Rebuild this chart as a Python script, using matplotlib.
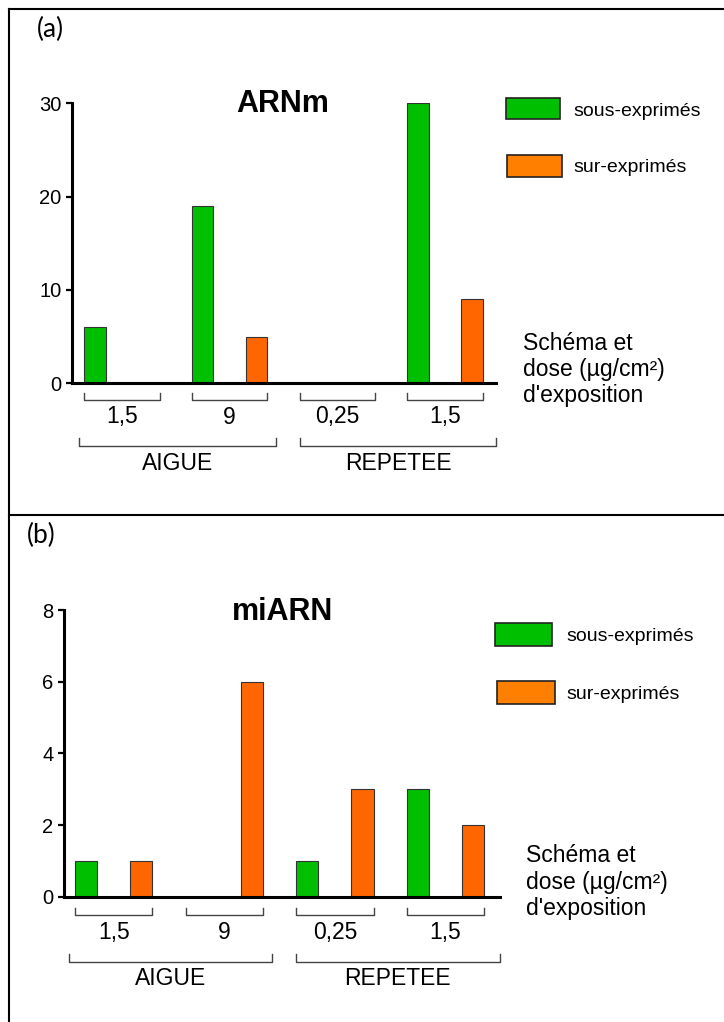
import numpy as np
import matplotlib
matplotlib.use('Agg')
import matplotlib.pyplot as plt
from matplotlib.patches import Rectangle
from matplotlib.lines import Line2D
from matplotlib.transforms import blended_transform_factory

W, H = 724, 1022

# exposure scheme and dose (µg/cm²) for each pair of bars
schemas = ['AIGUE', 'REPETEE']
doses = ['1,5', '9', '0,25', '1,5']

# number of deregulated genes
arnm_sous = [6, 19, 0, 30]
arnm_sur = [0, 5, 0, 9]
mirna_sous = [1, 0, 1, 3]
mirna_sur = [1, 6, 3, 2]

green = '#00BE00'
orange = '#FF6600'
orange_leg = '#FF8000'
edge = '#333333'

plt.rcParams['font.family'] = ['Liberation Sans', 'DejaVu Sans']

fig = plt.figure(figsize=(W / 100, H / 100), dpi=100)


def fx(x):
    return x / W


def fy(y):
    return 1 - y / H


def panel(lay, sous, sur, title, ymax, ystep):
    x0, x1, ytop, ybot = lay['axes']
    ax = fig.add_axes([fx(x0), fy(ybot), fx(x1 - x0), (ybot - ytop) / H])
    ax.set_xlim(*lay['xlim'])
    ax.set_ylim(0, ymax)
    pos = np.arange(len(doses)) * 2
    ax.bar(pos, sous, 0.4, color=green, edgecolor=edge, linewidth=0.8)
    ax.bar(pos + 1, sur, 0.4, color=orange, edgecolor=edge, linewidth=0.8)

    for s in ['top', 'right']:
        ax.spines[s].set_visible(False)
    for s in ['left', 'bottom']:
        ax.spines[s].set_linewidth(2.2)
    ax.set_xticks([])
    ax.set_yticks(np.arange(0, ymax + 1, ystep))
    ax.tick_params(axis='y', length=4.5, width=1.6, pad=3, labelsize=14.5)
    ax.set_facecolor('none')

    tr = blended_transform_factory(ax.transData, fig.transFigure)

    # dose brackets
    st, sb, sbase = lay['small']
    for k, d in enumerate(doses):
        a, b = 2 * k - 0.2, 2 * k + 1.2
        ax.plot([a, a, b, b], [fy(st), fy(sb), fy(sb), fy(st)], transform=tr,
                clip_on=False, color='#444444', lw=1.0)
        ax.text(2 * k + 0.5, fy(sbase), d, transform=tr, ha='center',
                va='baseline', fontsize=16.5)

    # scheme brackets
    bt, bb, bbase = lay['big']
    for (a, b), name in zip(lay['groups'], schemas):
        ax.plot([a, a, b, b], [fy(bt), fy(bb), fy(bb), fy(bt)], transform=tr,
                clip_on=False, color='#444444', lw=1.0)
        ax.text((a + b) / 2, fy(bbase), name, transform=tr, ha='center',
                va='baseline', fontsize=16.5)

    tx, tyb = lay['title']
    fig.text(fx(tx), fy(tyb), title, ha='center', va='baseline',
             fontsize=22, fontweight='bold')

    # legend boxes
    for (rx0, ry0, rx1, ry1, col), (lx, ly), lab in zip(
            lay['leg_box'], lay['leg_txt'], ['sous-exprimés', 'sur-exprimés']):
        fig.add_artist(Rectangle((fx(rx0), fy(ry1)), fx(rx1 - rx0), (ry1 - ry0) / H,
                                 transform=fig.transFigure, facecolor=col,
                                 edgecolor='#222222', lw=1.2))
        fig.text(fx(lx), fy(ly), lab, ha='left', va='baseline', fontsize=14)

    sx, sy = lay['schema']
    for line, yb in zip(['Schéma et', 'dose (µg/cm²)', "d'exposition"], sy):
        fig.text(fx(sx), fy(yb), line, ha='left', va='baseline', fontsize=16.5)

    lx, ly, lab = lay['tag']
    fig.text(fx(lx), fy(ly), lab, ha='center', va='baseline', fontsize=19,
             family=['Lato', 'DejaVu Sans'])
    return ax


lay_a = {
    'axes': (72, 496, 103.3, 383.3),
    'xlim': (-0.427, 7.445),
    'small': (393, 400.5, 423.5),
    'big': (438, 445.5, 470),
    'groups': [(-0.29, 3.36), (3.81, 7.445)],
    'title': (283, 112.5),
    'leg_box': [(505.5, 98, 560, 119, green), (506.5, 155, 562, 177, orange_leg)],
    'leg_txt': [(573, 116), (573, 171.5)],
    'schema': (523, [350, 376, 402]),
    'tag': (50, 37, '(a)'),
}

lay_b = {
    'axes': (64, 499.5, 610, 896.7),
    'xlim': (-0.398, 7.477),
    'small': (908, 914.5, 938.5),
    'big': (954, 961.5, 985),
    'groups': [(-0.30, 3.37), (3.80, 7.477)],
    'title': (282, 620),
    'leg_box': [(495, 623, 552, 646, green), (497, 681, 555, 704, orange_leg)],
    'leg_txt': [(566, 641), (566, 699)],
    'schema': (526, [862, 888.5, 915]),
    'tag': (41.5, 543, '(b)'),
}

panel(lay_a, arnm_sous, arnm_sur, 'ARNm', 30, 10)
panel(lay_b, mirna_sous, mirna_sur, 'miARN', 8, 2)

# panel frames
for xs, ys in [([9, W], [9, 9]), ([9, 9], [9, H]), ([9, W], [515, 515])]:
    fig.add_artist(Line2D([fx(v) for v in xs], [fy(v) for v in ys],
                          transform=fig.transFigure, color='black', lw=1.5))

fig.savefig('out.png', dpi=100)
